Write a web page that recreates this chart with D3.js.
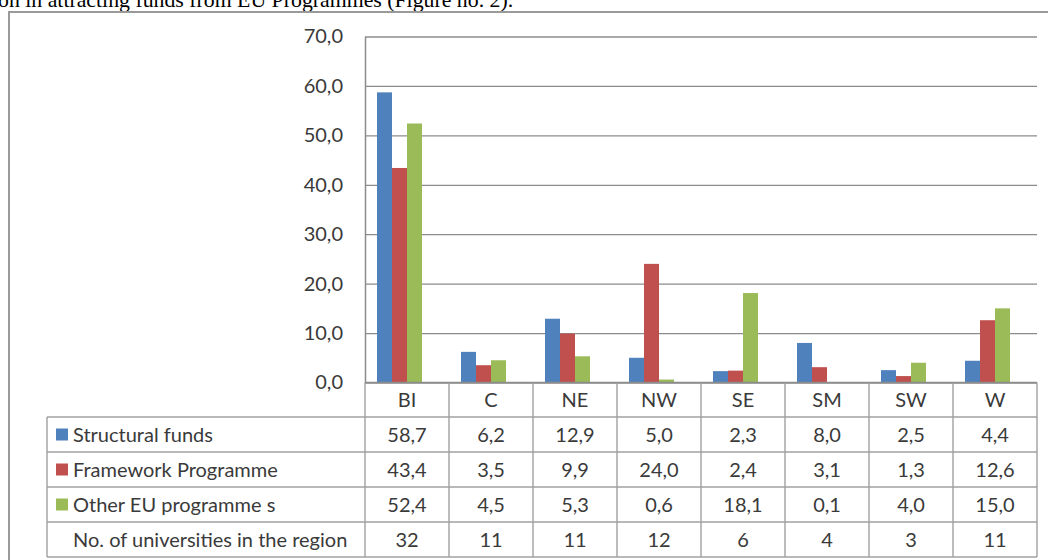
<!DOCTYPE html>
<html>
<head>
<meta charset="utf-8">
<title>EU funds by region</title>
<script src="https://d3js.org/d3.v7.min.js"></script>
<style>
  body { margin: 0; background: #fff; }
  svg { display: block; }
</style>
</head>
<body>
<div id="chart"></div>
<script>
// values
const categories = ["BI", "C", "NE", "NW", "SE", "SM", "SW", "W"];
const structuralFunds = [58.7, 6.2, 12.9, 5.0, 2.3, 8.0, 2.5, 4.4];
const frameworkProgramme = [43.4, 3.5, 9.9, 24.0, 2.4, 3.1, 1.3, 12.6];
const otherProgrammes = [52.4, 4.5, 5.3, 0.6, 18.1, 0.1, 4.0, 15.0];
const universities = [32, 11, 11, 12, 6, 4, 3, 11];
const seriesNames = ["Structural funds", "Framework Programme", "Other EU programme s"];
const seriesColors = ["#4f81bd", "#c0504d", "#9bbb59"];
const yTicks = [0, 10, 20, 30, 40, 50, 60, 70];
const captionText = "on in attracting funds from EU Programmes (Figure no. 2).";

const series = [structuralFunds, frameworkProgramme, otherProgrammes];

const W = 1048, H = 560;
const plotLeft = 365, plotRight = 1037, plotTop = 36.5, plotBottom = 382.5;
const font = "Lato, 'Open Sans', sans-serif";
const fontSize = "20px";
const textColor = "#3a3a3a";

const locale = d3.formatLocale({decimal: ",", thousands: ".", grouping: [3], currency: ["", ""]});
const fmt = locale.format(".1f");

const svg = d3.select("#chart").append("svg")
    .attr("width", W)
    .attr("height", H);

// caption line from the document, cut off at the top
svg.append("text")
    .attr("x", -2)
    .attr("y", 7)
    .attr("font-family", "'Liberation Serif', 'Times New Roman', serif")
    .attr("font-size", "21.8px")
    .attr("fill", "#000")
    .text(captionText);

// outer frame of the figure
svg.append("rect")
    .attr("x", 9)
    .attr("y", 12)
    .attr("width", 1060)
    .attr("height", 600)
    .attr("fill", "none")
    .attr("stroke", "#9a9a9a")
    .attr("stroke-width", 2);

const x0 = d3.scaleBand()
    .domain(categories)
    .range([plotLeft, plotRight]);

const x1 = d3.scaleBand()
    .domain(d3.range(series.length))
    .range([0, 45]);

const y = d3.scaleLinear()
    .domain([0, 70])
    .range([plotBottom, plotTop]);

const yAxis = d3.axisLeft(y)
    .tickValues(yTicks)
    .tickFormat(fmt)
    .tickSize(-(plotRight - plotLeft))
    .tickSizeOuter(0)
    .tickPadding(22);

const gy = svg.append("g")
    .attr("transform", "translate(" + plotLeft + ",0)")
    .call(yAxis);
gy.select(".domain").attr("stroke", "#8c8c8c").attr("stroke-width", 1.5);
gy.selectAll(".tick line").attr("stroke", "#8c8c8c").attr("stroke-width", 1.3);
gy.selectAll(".tick text")
    .attr("font-family", font)
    .attr("font-size", fontSize)
    .attr("fill", textColor);

// bars
const groups = svg.selectAll("g.grp")
    .data(categories)
    .enter()
    .append("g")
    .attr("class", "grp")
    .attr("transform", function(c) { return "translate(" + (x0(c) + 12) + ",0)"; });

groups.selectAll("rect")
    .data(function(c, i) { return series.map(function(s, k) { return {k: k, v: s[i]}; }); })
    .enter()
    .append("rect")
    .attr("x", function(d) { return x1(d.k); })
    .attr("width", x1.bandwidth())
    .attr("y", function(d) { return y(d.v); })
    .attr("height", function(d) { return y(0) - y(d.v); })
    .attr("fill", function(d) { return seriesColors[d.k]; });

// x axis line
svg.append("line")
    .attr("x1", plotLeft).attr("x2", plotRight)
    .attr("y1", plotBottom).attr("y2", plotBottom)
    .attr("stroke", "#8c8c8c").attr("stroke-width", 1.5);

// data table
const rowKeys = [0, 1, 2, 3];
const rowLabels = seriesNames.concat(["No. of universities in the region"]);
const rowValues = series.map(function(s) { return s.map(fmt); })
    .concat([universities.map(String)]);

const tableLeft = 47, tableTop = 417, tableBottom = 557;
const rows = d3.scaleBand()
    .domain(rowKeys)
    .range([tableTop, tableBottom]);

const lineColor = "#a0a0a0";
const table = svg.append("g");

// horizontal lines
table.selectAll("line.h")
    .data(rowKeys.concat([4]))
    .enter()
    .append("line")
    .attr("x1", tableLeft).attr("x2", plotRight)
    .attr("y1", function(r) { return r < 4 ? rows(r) : tableBottom; })
    .attr("y2", function(r) { return r < 4 ? rows(r) : tableBottom; })
    .attr("stroke", lineColor).attr("stroke-width", 1.4);

// vertical lines
table.append("line")
    .attr("x1", tableLeft).attr("x2", tableLeft)
    .attr("y1", tableTop).attr("y2", tableBottom)
    .attr("stroke", lineColor).attr("stroke-width", 1.4);

table.selectAll("line.v")
    .data(categories.concat(["end"]))
    .enter()
    .append("line")
    .attr("x1", function(c) { return c === "end" ? plotRight : x0(c); })
    .attr("x2", function(c) { return c === "end" ? plotRight : x0(c); })
    .attr("y1", plotBottom).attr("y2", tableBottom)
    .attr("stroke", lineColor).attr("stroke-width", 1.4);

// category header
table.selectAll("text.cat")
    .data(categories)
    .enter()
    .append("text")
    .attr("x", function(c) { return x0(c) + x0.bandwidth() / 2; })
    .attr("y", (plotBottom + tableTop) / 2)
    .attr("dy", "0.36em")
    .attr("text-anchor", "middle")
    .attr("font-family", font)
    .attr("font-size", fontSize)
    .attr("fill", textColor)
    .text(function(c) { return c; });

// legend keys
table.selectAll("rect.key")
    .data(seriesNames)
    .enter()
    .append("rect")
    .attr("x", 56)
    .attr("y", function(s, i) { return rows(i) + rows.bandwidth() / 2 - 6; })
    .attr("width", 12)
    .attr("height", 12)
    .attr("fill", function(s, i) { return seriesColors[i]; });

// row labels
table.selectAll("text.row")
    .data(rowLabels)
    .enter()
    .append("text")
    .attr("x", 73)
    .attr("y", function(s, i) { return rows(i) + rows.bandwidth() / 2; })
    .attr("dy", "0.36em")
    .attr("font-family", font)
    .attr("font-size", fontSize)
    .attr("fill", textColor)
    .text(function(s) { return s; });

// cell values
rowValues.forEach(function(vals, r) {
    table.selectAll("text.r" + r)
        .data(vals)
        .enter()
        .append("text")
        .attr("x", function(v, i) { return x0(categories[i]) + x0.bandwidth() / 2; })
        .attr("y", rows(r) + rows.bandwidth() / 2)
        .attr("dy", "0.36em")
        .attr("text-anchor", "middle")
        .attr("font-family", font)
        .attr("font-size", fontSize)
        .attr("fill", textColor)
        .text(function(v) { return v; });
});
</script>
</body>
</html>
